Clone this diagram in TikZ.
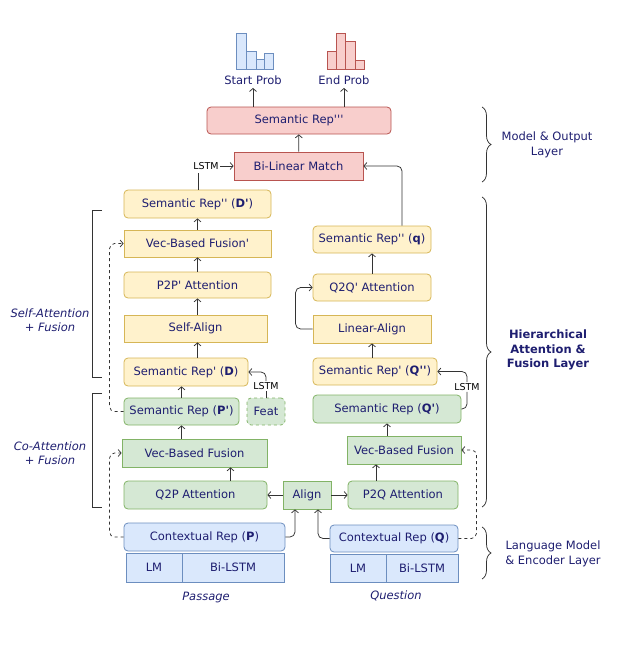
\documentclass[tikz,border=0pt]{standalone}
\usepackage{fontspec}
\setmainfont{DejaVu Sans}[Ligatures=TeXOff]
\usetikzlibrary{arrows.meta,decorations.pathreplacing}
\definecolor{txtnavy}{RGB}{30,30,112}
\definecolor{bluefill}{HTML}{DAE8FC}
\definecolor{blueline}{HTML}{6C8EBF}
\definecolor{greenfill}{HTML}{D5E8D4}
\definecolor{greenline}{HTML}{82B366}
\definecolor{yellowfill}{HTML}{FFF2CC}
\definecolor{yellowline}{HTML}{D6B656}
\definecolor{redfill}{HTML}{F8CECC}
\definecolor{redline}{HTML}{B85450}

\begin{document}
\begin{tikzpicture}[x=1pt, y=-1pt, font=\fontsize{11.5}{14.5}\selectfont, text=txtnavy,
    box/.style={draw, minimum height=27pt, inner sep=0pt, line width=0.8pt},
    rbox/.style={box, rounded corners=4pt},
    bluebox/.style={rbox, fill=bluefill, draw=blueline},
    greenbox/.style={box, fill=greenfill, draw=greenline},
    yellowbox/.style={box, fill=yellowfill, draw=yellowline},
    redbox/.style={box, fill=redfill, draw=redline},
    conn/.style={draw=black!80, line width=0.75pt},
    arr/.style={conn, -{Straight Barb[length=3pt,width=7pt]}},
    lstm/.style={text=black, font=\fontsize{9.5}{11}\selectfont, inner sep=1pt},
    side/.style={align=center},
    bracket/.style={draw=black!80, line width=0.75pt},
    curly/.style={draw=black!80, line width=0.75pt, decorate, decoration={brace, amplitude=9pt}}]
\useasboundingbox (0,0) rectangle (616,661);

% histograms
\draw[fill=bluefill, draw=blueline] (236,69) rectangle (246,33);
\draw[fill=bluefill, draw=blueline] (246,69) rectangle (256,51);
\draw[fill=bluefill, draw=blueline] (256,69) rectangle (264,59);
\draw[fill=bluefill, draw=blueline] (264,69) rectangle (273,53);
\draw[fill=redfill, draw=redline] (327,69) rectangle (336,51);
\draw[fill=redfill, draw=redline] (336,69) rectangle (345,33);
\draw[fill=redfill, draw=redline] (345,69) rectangle (355,41);
\draw[fill=redfill, draw=redline] (355,69) rectangle (364,60);
\node (startp) at (253,80) {Start Prob};
\node (endp) at (344,80) {End Prob};

% model & output layer
\node[redbox, rounded corners=4pt, minimum width=184pt] (srep3) at (299,120.5) {Semantic Rep'''};
\node[redbox, minimum width=129pt, minimum height=28pt] (blm) at (298.5,166) {Bi-Linear Match};
\node[lstm] (lstma) at (206,166) {LSTM};
\coordinate (lstmafoot) at (198,173);
\coordinate (qcorner) at (402,166);

% passage side
\node[yellowbox, rounded corners=4pt, minimum width=147pt, minimum height=28pt] (dpp) at (197.5,204) {Semantic Rep'' (\textbf{D'})};
\node[yellowbox, minimum width=147pt] (vbfp) at (197.5,243.5) {Vec-Based Fusion'};
\node[yellowbox, rounded corners=4pt, minimum width=147pt, minimum height=26pt] (p2p) at (197.5,285) {P2P' Attention};
\node[yellowbox, minimum width=143pt] (salign) at (195.5,328.5) {Self-Align};
\node[yellowbox, rounded corners=4pt, minimum width=124pt, minimum height=28pt] (drep) at (186,372) {Semantic Rep' (\textbf{D})};
\node[greenbox, rounded corners=4pt, minimum width=115pt] (prep) at (181.5,411.5) {Semantic Rep (\textbf{P'})};
\node[greenbox, rounded corners=4pt, dashed, minimum width=38pt] (feat) at (266,411.5) {Feat};
\node[lstm] (lstmb) at (266,386) {LSTM};
\node[greenbox, minimum width=145pt, minimum height=28pt] (vbf) at (194.5,453) {Vec-Based Fusion};
\node[greenbox, rounded corners=4pt, minimum width=143pt, minimum height=28pt] (q2p) at (195.5,495) {Q2P Attention};
\node[greenbox, minimum width=48pt, minimum height=28pt] (align) at (307,495) {Align};
\node[bluebox, minimum width=161pt, minimum height=28pt] (ctxp) at (204.5,537) {Contextual Rep (\textbf{P})};
\node[box, fill=bluefill, draw=blueline, minimum width=56pt, minimum height=29pt] (lmp) at (154,567.5) {LM};
\node[box, fill=bluefill, draw=blueline, minimum width=102pt, minimum height=29pt] (bilp) at (233,567.5) {Bi-LSTM};
\node[font=\fontsize{11.5}{14.5}\itshape] (passage) at (206,597) {Passage};

% question side
\node[yellowbox, rounded corners=4pt, minimum width=118pt] (qrep2) at (372,239.5) {Semantic Rep'' (\textbf{q})};
\node[yellowbox, rounded corners=4pt, minimum width=118pt] (q2q) at (372,287.5) {Q2Q' Attention};
\node[yellowbox, minimum width=118pt, minimum height=28pt] (lalign) at (372,329) {Linear-Align};
\node[yellowbox, rounded corners=4pt, minimum width=124pt] (qpp) at (375,371.5) {Semantic Rep' (\textbf{Q''})};
\node[greenbox, rounded corners=4pt, minimum width=148pt, minimum height=28pt] (qp) at (387,409) {Semantic Rep (\textbf{Q'})};
\node[lstm] (lstmq) at (467,387) {LSTM};
\node[greenbox, minimum width=114pt, minimum height=28pt] (vbfq) at (404,450) {Vec-Based Fusion};
\node[greenbox, rounded corners=4pt, minimum width=110pt, minimum height=28pt] (p2q) at (403,495) {P2Q Attention};
\node[bluebox, minimum width=128pt] (ctxq) at (394,538.5) {Contextual Rep (\textbf{Q})};
\node[box, fill=bluefill, draw=blueline, minimum width=56pt, minimum height=28pt] (lmq) at (358,568) {LM};
\node[box, fill=bluefill, draw=blueline, minimum width=72pt, minimum height=28pt] (bilq) at (422,568) {Bi-LSTM};
\node[font=\fontsize{11.5}{14.5}\itshape] (question) at (396,596) {Question};

% side labels
\node[side] (modellbl) at (547,145) {Model \& Output\\Layer};
\node[side, font=\fontsize{11.5}{14.5}\bfseries] (hierlbl) at (548,350) {Hierarchical\\Attention \&\\Fusion Layer};
\node[side] (langlbl) at (553,554) {Language Model\\\& Encoder Layer};
\node[side, font=\fontsize{11.5}{14.5}\itshape] (selflbl) at (50,320) {Self-Attention\\+ Fusion};
\node[side, font=\fontsize{11.5}{14.5}\itshape] (colbl) at (50,453) {Co-Attention\\+ Fusion};

% brackets and braces
\draw[bracket] (102,210) -| (92,377) -- (102,377);
\draw[bracket] (102,393) -| (92,507) -- (102,507);
\draw[curly] (482,107) -- (482,182);
\draw[curly] (482,197) -- (482,507);
\draw[curly] (482,527) -- (482,579);

% connectors, top part
\draw[arr] (srep3.north -| startp) -- (startp.south);
\draw[arr] (srep3.north -| endp) -- (endp.south);
\draw[arr] (blm) -- (srep3);
\draw[conn] (lstmafoot |- dpp.north) -- (lstmafoot);
\draw[arr] (lstma) -- (blm);
\draw[arr, rounded corners=5pt] (qcorner |- qrep2.north) -- (qcorner) -- (blm.east);

% connectors, passage
\draw[arr] (vbfp) -- (dpp);
\draw[arr] (p2p) -- (vbfp);
\draw[arr] (salign.north -| p2p) -- (p2p.south);
\draw[arr] (drep.north -| p2p) -- (salign.south -| p2p);
\draw[arr] (prep.north) -- (prep.north |- drep.south);
\draw[conn] (feat) -- (lstmb);
\draw[arr, rounded corners=5pt] (lstmb.north) |- (drep.east);
\draw[arr] (vbf.north -| prep) -- (prep.south);
\draw[arr] ([xshift=35pt]q2p.north) -- ([xshift=35pt]q2p.north |- vbf.south);
\draw[arr] (align) -- (q2p);
\draw[arr, rounded corners=5pt] (ctxp.east) -| ([xshift=-12pt]align.south);
\draw[arr, dashed, rounded corners=5pt] (prep.west) -- ++(-14,0) |- (vbfp.west);
\draw[arr, dashed, rounded corners=5pt] (ctxp.west) -- ++(-14,0) |- (vbf.west);

% connectors, question
\draw[arr] (align) -- (p2q);
\draw[arr, rounded corners=5pt] (ctxq.west) -| ([xshift=11pt]align.south);
\draw[arr] ([xshift=-27pt]p2q.north) -- ([xshift=-27pt]p2q.north |- vbfq.south);
\draw[arr] (vbfq.north -| qp) -- (qp.south);
\draw[conn, rounded corners=5pt] (qp.east) -| (lstmq.south);
\draw[arr, rounded corners=5pt] (lstmq.north) |- (qpp.east);
\draw[arr] (qpp.north -| lalign) -- (lalign.south);
\draw[arr, rounded corners=5pt] (lalign.west) -- ++(-17,0) |- (q2q.west);
\draw[arr] (q2q) -- (qrep2);
\draw[arr, dashed, rounded corners=5pt] (ctxq.east) -- ++(18,0) |- (vbfq.east);
\end{tikzpicture}
\end{document}
